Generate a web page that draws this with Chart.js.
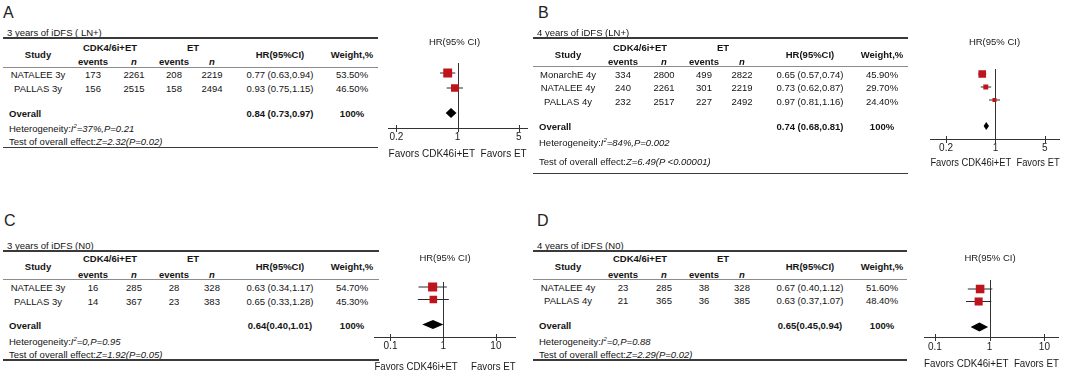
<!DOCTYPE html>
<html>
<head>
<meta charset="utf-8">
<script src="https://cdn.jsdelivr.net/npm/chart.js@4.4.1/dist/chart.umd.min.js"></script>
<style>
  body { margin: 0; background: #fff; width: 1065px; height: 373px; overflow: hidden; position: relative;
         font-family: "Liberation Sans", Arial, sans-serif; color: #141414; }
  .tx { position: absolute; white-space: nowrap; font-size: 9.5px; line-height: 11px; transform: translate(-50%, -50%); }
  .left { transform: translate(0, -50%); }
  .b { font-weight: bold; }
  .letter { font-size: 16px; line-height: 16px; color: #222; }
  .sup { font-size: 6px; vertical-align: 4px; }
  .cv { position: absolute; }
</style>
</head>
<body>
<script>
// ---- data: A, 3 years of iDFS (LN+) ----
const titleA = '3 years of iDFS ( LN+)';
const studiesA = ['NATALEE 3y', 'PALLAS 3y'];
const cdkEventsA = [173, 156];
const cdkTotalA = [2261, 2515];
const etEventsA = [208, 158];
const etTotalA = [2219, 2494];
const hrA = [0.77, 0.93];
const lowA = [0.63, 0.75];
const highA = [0.94, 1.15];
const weightA = [53.5, 46.5];
const overallA = [0.84, 0.73, 0.97];
const hetA = ['37%', '0.21'];
const testA = ['2.32', '=0.02'];
const ticksA = [0.2, 1, 5];

// ---- data: B, 4 years of iDFS (LN+) ----
const titleB = '4 years of iDFS (LN+)';
const studiesB = ['MonarchE 4y', 'NATALEE 4y', 'PALLAS 4y'];
const cdkEventsB = [334, 240, 232];
const cdkTotalB = [2800, 2261, 2517];
const etEventsB = [499, 301, 227];
const etTotalB = [2822, 2219, 2492];
const hrB = [0.65, 0.73, 0.97];
const lowB = [0.57, 0.62, 0.81];
const highB = [0.74, 0.87, 1.16];
const weightB = [45.9, 29.7, 24.4];
const overallB = [0.74, 0.68, 0.81];
const hetB = ['84%', '0.002'];
const testB = ['6.49', ' <0.00001'];
const ticksB = [0.2, 1, 5];

// ---- data: C, 3 years of iDFS (N0) ----
const titleC = '3 years of iDFS (N0)';
const studiesC = ['NATALEE 3y', 'PALLAS 3y'];
const cdkEventsC = [16, 14];
const cdkTotalC = [285, 367];
const etEventsC = [28, 23];
const etTotalC = [328, 383];
const hrC = [0.63, 0.65];
const lowC = [0.34, 0.33];
const highC = [1.17, 1.28];
const weightC = [54.7, 45.3];
const overallC = [0.64, 0.40, 1.01];
const hetC = ['0', '0.95'];
const testC = ['1.92', '=0.05'];
const ticksC = [0.1, 1, 10];

// ---- data: D, 4 years of iDFS (N0) ----
const titleD = '4 years of iDFS (N0)';
const studiesD = ['NATALEE 4y', 'PALLAS 4y'];
const cdkEventsD = [23, 21];
const cdkTotalD = [285, 365];
const etEventsD = [38, 36];
const etTotalD = [328, 385];
const hrD = [0.67, 0.63];
const lowD = [0.40, 0.37];
const highD = [1.12, 1.07];
const weightD = [51.6, 48.4];
const overallD = [0.65, 0.45, 0.94];
const hetD = ['0', '0.88'];
const testD = ['2.29', '=0.02'];
const ticksD = [0.1, 1, 10];

const FONT = '"Liberation Sans", Arial, sans-serif';
Chart.defaults.font.family = FONT;

// column centres, relative to each panel's left edge
const col = { study: 38, ev1: 93, n1: 134, ev2: 174, n2: 212, hr: 280, wt: 352, cdk: 110, et: 193 };

const panels = [
  { letter: 'A', title: titleA, studies: studiesA, cdkEv: cdkEventsA, cdkN: cdkTotalA, etEv: etEventsA, etN: etTotalA,
    hr: hrA, lo: lowA, hi: highA, w: weightA, overall: overallA, het: hetA, test: testA, ticks: ticksA, ovSpace: true,
    L: { ox: 0, oy: 0, letterX: 3, letterY: 13, titleY: 32, topY: 38, groupY: 47, headY: 54, subY: 61, headLineY: 67,
         rowY0: 73.5, rowStep: 14.5, overallY: 113, hetY: 127, testY: 141, bottomY: 147.5, lineR: 378 },
    C: { left: 382, top: 30, width: 160, height: 130, padR: 15, areaTop: 63, areaBottom: 128, xmin: 0.1616, xmax: 6.19,
         titleTop: 6.3, titleBottom: 15.3, tickPad: 3, axisH: 32, favors: 'Favors CDK46i+ET  Favors ET',
         sqRow0: 73, sqStep: 15, sqOverall: 113, dh: 5 } },
  { letter: 'B', title: titleB, studies: studiesB, cdkEv: cdkEventsB, cdkN: cdkTotalB, etEv: etEventsB, etN: etTotalB,
    hr: hrB, lo: lowB, hi: highB, w: weightB, overall: overallB, het: hetB, test: testB, ticks: ticksB, ovSpace: true,
    L: { ox: 530, oy: 0, letterX: 8, letterY: 13, titleY: 32, topY: 38, groupY: 47, headY: 54, subY: 61, headLineY: 66,
         rowY0: 73.5, rowStep: 13.5, overallY: 126, hetY: 141, testY: 161, bottomY: 173.5, lineR: 378 },
    C: { left: 925, top: 30, width: 140, height: 139, padR: 1, areaTop: 69, areaBottom: 139, xmin: 0.12, xmax: 8.09,
         titleTop: 6.3, titleBottom: 21.3, tickPad: 3.3, axisH: 30, favors: 'Favors CDK46i+ET  Favors ET',
         sqRow0: 74, sqStep: 13, sqOverall: 126, dh: 4 } },
  { letter: 'C', title: titleC, studies: studiesC, cdkEv: cdkEventsC, cdkN: cdkTotalC, etEv: etEventsC, etN: etTotalC,
    hr: hrC, lo: lowC, hi: highC, w: weightC, overall: overallC, het: hetC, test: testC, ticks: ticksC, ovSpace: false,
    L: { ox: 0, oy: 213, letterX: 4, letterY: 7.5, titleY: 32, topY: 38, groupY: 45, headY: 53, subY: 61, headLineY: 66.5,
         rowY0: 74, rowStep: 13.5, overallY: 112, hetY: 127, testY: 141, bottomY: 147, lineR: 379 },
    C: { left: 368, top: 245, width: 154, height: 128, padR: 0, areaTop: 282, areaBottom: 337, xmin: 0.0496, xmax: 23.6,
         titleTop: 7.3, titleBottom: 18.3, tickPad: 3.3, axisH: 36, favors: 'Favors CDK46i+ET     Favors ET',
         sqRow0: 287, sqStep: 12.5, sqOverall: 324.5, dh: 4.5 } },
  { letter: 'D', title: titleD, studies: studiesD, cdkEv: cdkEventsD, cdkN: cdkTotalD, etEv: etEventsD, etN: etTotalD,
    hr: hrD, lo: lowD, hi: highD, w: weightD, overall: overallD, het: hetD, test: testD, ticks: ticksD, ovSpace: false,
    L: { ox: 530, oy: 213, letterX: 7, letterY: 8, titleY: 32, topY: 38, groupY: 45, headY: 53, subY: 61, headLineY: 66.5,
         rowY0: 73.5, rowStep: 13.5, overallY: 112, hetY: 127, testY: 141, bottomY: 147, lineR: 377 },
    C: { left: 918, top: 245, width: 147, height: 125, padR: 3, areaTop: 280, areaBottom: 337, xmin: 0.0636, xmax: 18.4,
         titleTop: 7.3, titleBottom: 16.3, tickPad: 4.3, axisH: 33, favors: 'Favors CDK46i+ET  Favors ET',
         sqRow0: 289, sqStep: 12.5, sqOverall: 327, dh: 4.5 } }
];

function put(html, x, y, cls) {
  const d = document.createElement('div');
  d.className = 'tx ' + (cls || '');
  d.style.left = x + 'px';
  d.style.top = y + 'px';
  d.innerHTML = html;
  document.body.appendChild(d);
}

function rule(x1, x2, y, w, color) {
  const d = document.createElement('div');
  d.style.cssText = `position:absolute;left:${x1}px;top:${y - w / 2}px;width:${x2 - x1}px;height:${w}px;background:${color}`;
  document.body.appendChild(d);
}

const fmt = v => v.toFixed(2);

// the table on the left of each panel
function drawTable(p) {
  const L = p.L;
  const X = v => L.ox + v, Y = v => L.oy + v;
  put(p.letter, X(L.letterX), Y(L.letterY), 'letter left');
  put(p.title, X(7), Y(L.titleY), 'left');
  rule(X(3), X(L.lineR), Y(L.topY), 1.6, '#3a3a3a');
  put('CDK4/6i+ET', X(col.cdk), Y(L.groupY), 'b');
  put('ET', X(col.et), Y(L.groupY), 'b');
  put('Study', X(col.study), Y(L.headY), 'b');
  put('HR(95%CI)', X(col.hr), Y(L.headY), 'b');
  put('Weight,%', X(col.wt), Y(L.headY), 'b');
  put('events', X(col.ev1), Y(L.subY), 'b');
  put('<i>n</i>', X(col.n1), Y(L.subY), 'b');
  put('events', X(col.ev2), Y(L.subY), 'b');
  put('<i>n</i>', X(col.n2), Y(L.subY), 'b');
  rule(X(3), X(L.lineR), Y(L.headLineY), 0.8, '#8c8c8c');

  p.studies.forEach((s, i) => {
    const y = Y(L.rowY0 + i * L.rowStep);
    put(s, X(col.study), y);
    put(p.cdkEv[i], X(col.ev1), y);
    put(p.cdkN[i], X(col.n1), y);
    put(p.etEv[i], X(col.ev2), y);
    put(p.etN[i], X(col.n2), y);
    put(`${fmt(p.hr[i])} (${fmt(p.lo[i])},${fmt(p.hi[i])})`, X(col.hr), y);
    put(p.w[i].toFixed(2) + '%', X(col.wt), y);
  });

  const [est, lo, hi] = p.overall;
  const total = Math.round(p.w.reduce((a, b) => a + b, 0));
  put('Overall', X(9), Y(L.overallY), 'b left');
  put(`${fmt(est)}${p.ovSpace ? ' ' : ''}(${fmt(lo)},${fmt(hi)})`, X(col.hr), Y(L.overallY), 'b');
  put(total + '%', X(col.wt), Y(L.overallY), 'b');
  put(`Heterogeneity:<i>I<span class="sup">2</span>=${p.het[0]},P=${p.het[1]}</i>`, X(9), Y(L.hetY), 'left');
  put(`Test of overall effect:<i>Z=${p.test[0]}(P${p.test[1]})</i>`, X(9), Y(L.testY), 'left');
  rule(X(3), X(L.lineR), Y(L.bottomY), 1.6, '#3a3a3a');
}

// reference line, crossing tick marks and pooled diamond
const forestExtras = {
  id: 'forestExtras',
  beforeDatasetsDraw(chart) {
    const { ctx, chartArea: a, scales: { x } } = chart;
    const x1 = x.getPixelForValue(1);
    ctx.save();
    ctx.strokeStyle = '#333';
    ctx.lineWidth = 1;
    ctx.beginPath();
    ctx.moveTo(Math.round(x1) + 0.5, a.top);
    ctx.lineTo(Math.round(x1) + 0.5, a.bottom);
    x.ticks.forEach(t => {
      const px = Math.round(x.getPixelForValue(t.value)) + 0.5;
      ctx.moveTo(px, a.bottom - 3);
      ctx.lineTo(px, a.bottom + 4);
    });
    ctx.stroke();
    ctx.restore();
  },
  afterDatasetsDraw(chart, args, opts) {
    const { ctx, scales: { x, y } } = chart;
    const [est, lo, hi] = opts.overall;
    const cy = y.getPixelForValue(opts.row);
    ctx.save();
    ctx.fillStyle = '#000';
    ctx.beginPath();
    ctx.moveTo(x.getPixelForValue(lo), cy);
    ctx.lineTo(x.getPixelForValue(est), cy - opts.dh);
    ctx.lineTo(x.getPixelForValue(hi), cy);
    ctx.lineTo(x.getPixelForValue(est), cy + opts.dh);
    ctx.closePath();
    ctx.fill();
    ctx.restore();
  }
};

function drawForest(p) {
  const c = p.C;
  const holder = document.createElement('div');
  holder.className = 'cv';
  holder.style.left = c.left + 'px';
  holder.style.top = c.top + 'px';
  const cv = document.createElement('canvas');
  cv.width = c.width;
  cv.height = c.height;
  cv.style.width = c.width + 'px';
  cv.style.height = c.height + 'px';
  holder.appendChild(cv);
  document.body.appendChild(holder);

  const step = c.sqStep;
  const ovRow = (c.sqOverall - c.sqRow0) / step;
  const ymin = -(c.sqRow0 - c.areaTop) / step;
  const ymax = (c.areaBottom - c.sqRow0) / step;

  const whiskers = p.studies.map((s, i) => ({
    label: s,
    data: [{ x: p.lo[i], y: i }, { x: p.hi[i], y: i }],
    showLine: true,
    borderColor: '#2a2a2a',
    borderWidth: 1,
    pointRadius: 0,
    order: 2
  }));
  const squares = {
    label: 'HR',
    data: p.hr.map((v, i) => ({ x: v, y: i })),
    pointStyle: 'rect',
    pointRadius: p.w.map(w => w / 8.5),
    backgroundColor: '#c0141c',
    borderColor: '#b01218',
    borderWidth: 0,
    order: 1
  };

  new Chart(cv, {
    type: 'scatter',
    data: { datasets: [...whiskers, squares] },
    options: {
      responsive: false,
      animation: false,
      events: [],
      layout: { padding: { left: 0, right: c.padR, top: 0, bottom: 0 } },
      plugins: {
        legend: { display: false },
        tooltip: { enabled: false },
        title: {
          display: true, text: 'HR(95% CI)', color: '#1a1a1a',
          font: { size: 9.5, weight: 'normal', family: FONT },
          padding: { top: c.titleTop, bottom: c.titleBottom }
        },
        forestExtras: { overall: p.overall, row: ovRow, dh: c.dh }
      },
      scales: {
        x: {
          type: 'logarithmic',
          position: 'bottom',
          min: c.xmin,
          max: c.xmax,
          bounds: 'data',
          afterBuildTicks: s => { s.ticks = p.ticks.map(v => ({ value: v })); },
          afterFit: s => { s.height = c.axisH; },
          grid: { display: false, drawTicks: false },
          border: { display: true, color: '#333', width: 1 },
          ticks: {
            autoSkip: false, maxRotation: 0, padding: c.tickPad, color: '#1a1a1a',
            font: { size: 10, family: FONT },
            callback: v => String(v)
          },
          title: {
            display: true, text: c.favors, color: '#1a1a1a',
            font: { size: 10, family: FONT },
            padding: { top: 0, bottom: 0 }
          }
        },
        y: { type: 'linear', display: false, reverse: true, min: ymin, max: ymax }
      }
    },
    plugins: [forestExtras]
  });
}

panels.forEach(p => { drawTable(p); drawForest(p); });
</script>
</body>
</html>
